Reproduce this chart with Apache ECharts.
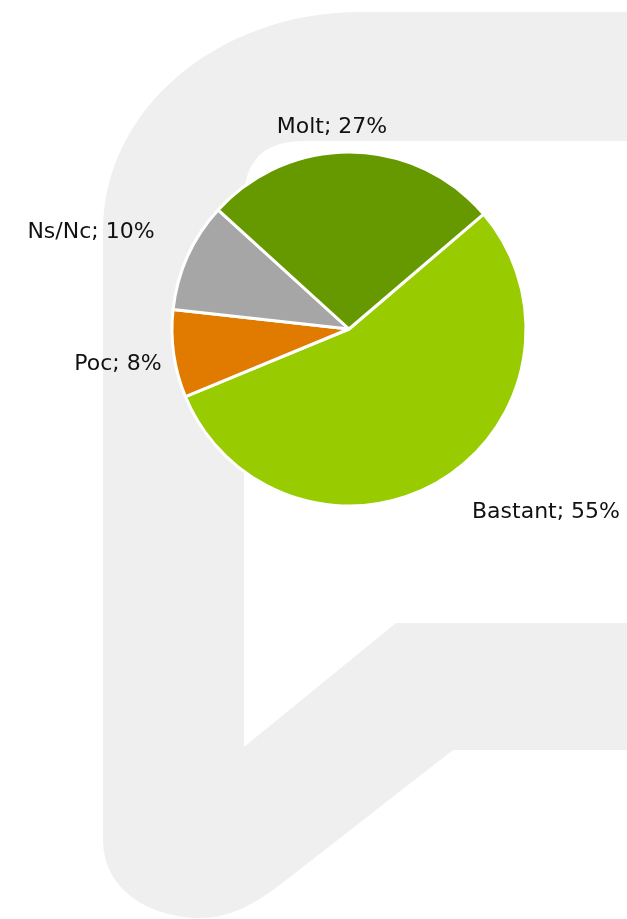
<!DOCTYPE html>
<html>
<head>
<meta charset="utf-8">
<style>
html,body{margin:0;padding:0;background:#fff;}
#chart{width:627px;height:919px;}
</style>
<script src="https://cdn.jsdelivr.net/npm/echarts@6/dist/echarts.min.js"></script>
</head>
<body>
<div id="chart"></div>
<script>
// ---- data ----
var categories = ['Bastant', 'Poc', 'Ns/Nc', 'Molt'];
var percentages = [55, 8, 10, 27];
var sliceColors = ['#99CC00', '#E07B00', '#A6A6A6', '#669900'];

// label anchor positions (layout only)
var labelPos = [[546, 512], [118, 364], [91, 232], [332, 127]];

var chart = echarts.init(document.getElementById('chart'), null, {renderer: 'canvas'});

// background watermark shape built as polygon (decoration)
function cubic(p0, p1, p2, p3, n, out) {
  for (var i = 1; i <= n; i++) {
    var t = i / n, u = 1 - t;
    out.push([
      u*u*u*p0[0] + 3*u*u*t*p1[0] + 3*u*t*t*p2[0] + t*t*t*p3[0],
      u*u*u*p0[1] + 3*u*u*t*p1[1] + 3*u*t*t*p2[1] + t*t*t*p3[1]
    ]);
  }
}
function quad(p0, p1, p2, n, out) {
  for (var i = 1; i <= n; i++) {
    var t = i / n, u = 1 - t;
    out.push([u*u*p0[0] + 2*u*t*p1[0] + t*t*p2[0], u*u*p0[1] + 2*u*t*p1[1] + t*t*p2[1]]);
  }
}
var pts = [[360, 12], [627, 12], [627, 141], [304, 141]];
quad([304, 141], [244, 141], [244, 200], 16, pts);
pts.push([244, 747], [396, 623], [627, 623], [627, 750], [453, 750], [290, 877]);
cubic([290, 877], [262, 899], [235, 918], [200, 918], 16, pts);
cubic([200, 918], [150, 918], [103, 890], [103, 840], 16, pts);
pts.push([103, 230]);
cubic([103, 230], [103, 109.6], [218, 12], [360, 12], 32, pts);

var data = categories.map(function (c, i) {
  return {name: c, value: percentages[i], itemStyle: {color: sliceColors[i]}};
});

chart.setOption({
  backgroundColor: '#ffffff',
  animation: false,
  graphic: [{
    type: 'polygon',
    z: -10,
    silent: true,
    shape: {points: pts},
    style: {fill: '#EFEFEF'}
  }],
  series: [{
    type: 'pie',
    center: [349, 329],
    radius: 177,
    startAngle: 40.5,
    clockwise: true,
    data: data,
    itemStyle: {borderColor: '#ffffff', borderWidth: 3},
    label: {
      show: true,
      position: 'outside',
      overflow: 'none',
      edgeDistance: 0,
      bleedMargin: 0,
      formatter: function (p) { return p.name + '; ' + p.value + '%'; },
      fontFamily: 'DejaVu Sans',
      fontSize: 22,
      color: '#111111'
    },
    labelLine: {show: false},
    labelLayout: function (params) {
      var p = labelPos[params.dataIndex];
      return {x: p[0], y: p[1], align: 'center', verticalAlign: 'middle'};
    },
    emphasis: {disabled: true}
  }]
});
</script>
</body>
</html>
